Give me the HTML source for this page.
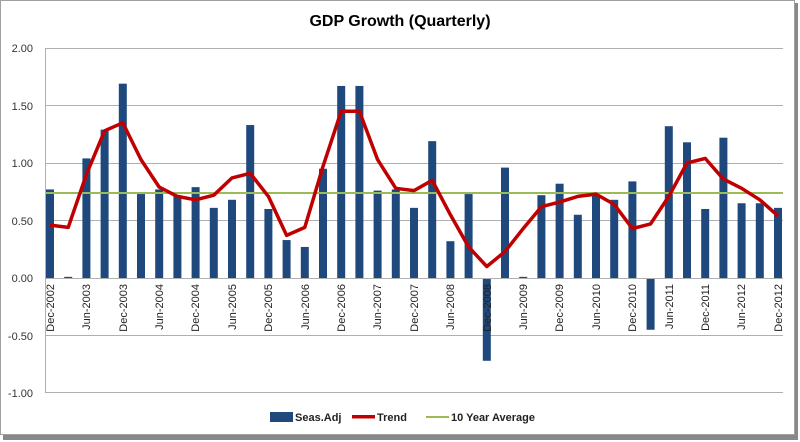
<!DOCTYPE html>
<html><head><meta charset="utf-8">
<style>
html,body{margin:0;padding:0;background:#fff;}
svg{display:block;font-family:"Liberation Sans",Arial,sans-serif;}
</style></head>
<body>
<svg id="c" width="800" height="442" xmlns="http://www.w3.org/2000/svg">
<rect x="0" y="0" width="800" height="442" fill="#fff"/>
<rect x="3" y="3" width="795" height="437" fill="#888"/>
<rect x="0.5" y="0.5" width="794" height="434" fill="#fff" stroke="#a0a0a0"/>
<text x="400" y="26" text-anchor="middle" font-size="16" font-weight="bold" fill="#000">GDP Growth (Quarterly)</text>
<g stroke="#b0b0b0" stroke-width="1">
<line x1="46" y1="48.5" x2="783" y2="48.5"/>
<line x1="46" y1="105.5" x2="783" y2="105.5"/>
<line x1="46" y1="163.5" x2="783" y2="163.5"/>
<line x1="46" y1="220.5" x2="783" y2="220.5"/>
<line x1="46" y1="335.5" x2="783" y2="335.5"/>
<line x1="46" y1="392.5" x2="783" y2="392.5"/>
<line x1="45.5" y1="48" x2="45.5" y2="393"/>
</g>
<g font-size="11" fill="#333" text-anchor="end">
<text x="33" y="52">2.00</text>
<text x="33" y="110">1.50</text>
<text x="33" y="167">1.00</text>
<text x="33" y="225">0.50</text>
<text x="33" y="282">0.00</text>
<text x="33" y="340">-0.50</text>
<text x="33" y="397">-1.00</text>
</g>
<g id="bars" fill="#1f497d"></g>
<line x1="46" y1="278.5" x2="783" y2="278.5" stroke="#b0b0b0"/>
<line x1="46" y1="193" x2="783" y2="193" stroke="#9bbb59" stroke-width="2"/>
<polyline id="trend" fill="none" stroke="#c00000" stroke-width="3.5" stroke-linejoin="round"/>
<g font-size="11" fill="#222" text-anchor="end">
<text transform="translate(54,284) rotate(-90)">Dec-2002</text>
<text transform="translate(90,284) rotate(-90)">Jun-2003</text>
<text transform="translate(127,284) rotate(-90)">Dec-2003</text>
<text transform="translate(163,284) rotate(-90)">Jun-2004</text>
<text transform="translate(199,284) rotate(-90)">Dec-2004</text>
<text transform="translate(236,284) rotate(-90)">Jun-2005</text>
<text transform="translate(272,284) rotate(-90)">Dec-2005</text>
<text transform="translate(309,284) rotate(-90)">Jun-2006</text>
<text transform="translate(345,284) rotate(-90)">Dec-2006</text>
<text transform="translate(381,284) rotate(-90)">Jun-2007</text>
<text transform="translate(418,284) rotate(-90)">Dec-2007</text>
<text transform="translate(454,284) rotate(-90)">Jun-2008</text>
<text transform="translate(491,284) rotate(-90)">Dec-2008</text>
<text transform="translate(527,284) rotate(-90)">Jun-2009</text>
<text transform="translate(563,284) rotate(-90)">Dec-2009</text>
<text transform="translate(600,284) rotate(-90)">Jun-2010</text>
<text transform="translate(636,284) rotate(-90)">Dec-2010</text>
<text transform="translate(673,284) rotate(-90)">Jun-2011</text>
<text transform="translate(709,284) rotate(-90)">Dec-2011</text>
<text transform="translate(745,284) rotate(-90)">Jun-2012</text>
<text transform="translate(782,284) rotate(-90)">Dec-2012</text>
</g>
<g font-size="11" font-weight="bold" fill="#222">
<rect x="270" y="412" width="23" height="10" fill="#1f497d"/>
<text x="295" y="421">Seas.Adj</text>
<rect x="352" y="415" width="23" height="3.5" fill="#c00000"/>
<text x="377" y="421">Trend</text>
<rect x="426" y="416" width="23" height="2" fill="#9bbb59"/>
<text x="451" y="421">10 Year Average</text>
</g>
<script>
var v=[0.77,0.01,1.04,1.29,1.69,0.73,0.77,0.72,0.79,0.61,0.68,1.33,0.60,0.33,0.27,0.95,1.67,1.67,0.76,0.77,0.61,1.19,0.32,0.73,-0.72,0.96,0.01,0.72,0.82,0.55,0.72,0.68,0.84,-0.45,1.32,1.18,0.60,1.22,0.65,0.65,0.61];
var t=[0.46,0.44,0.90,1.28,1.35,1.03,0.79,0.71,0.68,0.72,0.87,0.91,0.71,0.37,0.44,0.97,1.45,1.45,1.03,0.78,0.76,0.85,0.55,0.27,0.10,0.23,0.43,0.62,0.66,0.71,0.73,0.64,0.43,0.47,0.71,1.00,1.04,0.86,0.78,0.68,0.54];
var NS="http://www.w3.org/2000/svg",g=document.getElementById("bars"),pts=[];
for(var i=0;i<41;i++){var cx=50+i*18.2,y0=278,y=278-v[i]*115;
var r=document.createElementNS(NS,"rect");r.setAttribute("x",cx-4);r.setAttribute("width",8);
r.setAttribute("y",Math.min(y,y0));r.setAttribute("height",Math.max(Math.abs(y-y0),2));g.appendChild(r);
pts.push(cx.toFixed(1)+","+(278-t[i]*115).toFixed(1));}
document.getElementById("trend").setAttribute("points",pts.join(" "));
</script>
</svg>
</body></html>
